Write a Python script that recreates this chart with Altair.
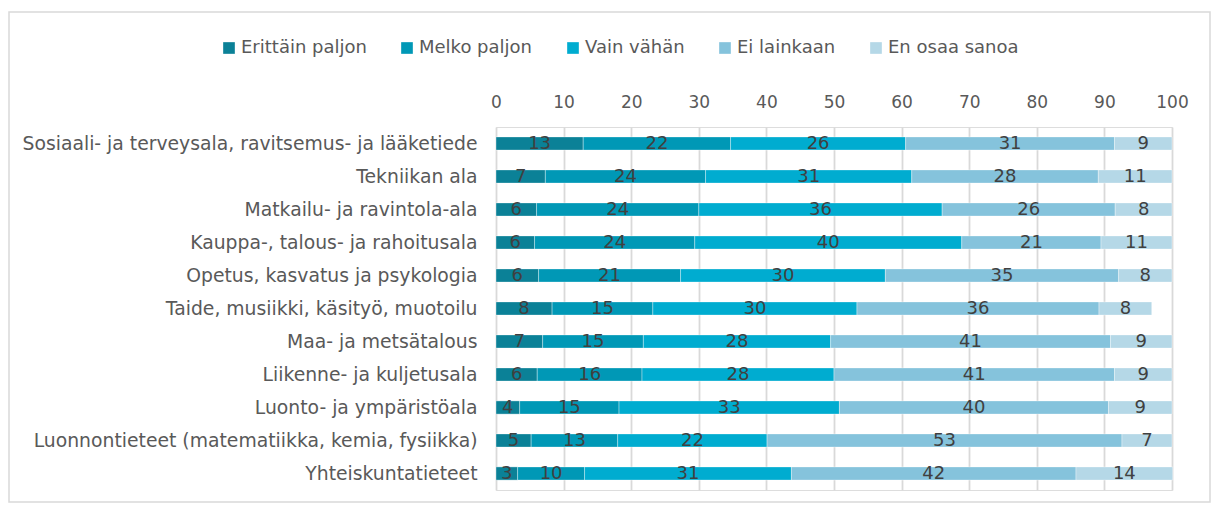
import altair as alt
import pandas as pd

categories = [
    "Sosiaali- ja terveysala, ravitsemus- ja lääketiede",
    "Tekniikan ala",
    "Matkailu- ja ravintola-ala",
    "Kauppa-, talous- ja rahoitusala",
    "Opetus, kasvatus ja psykologia",
    "Taide, musiikki, käsityö, muotoilu",
    "Maa- ja metsätalous",
    "Liikenne- ja kuljetusala",
    "Luonto- ja ympäristöala",
    "Luonnontieteet (matematiikka, kemia, fysiikka)",
    "Yhteiskuntatieteet",
]
series = ["Erittäin paljon", "Melko paljon", "Vain vähän", "Ei lainkaan", "En osaa sanoa"]
colors = ["#0b8197", "#0098b6", "#00acd0", "#85c3dc", "#b5d8e7"]

erittain = [12.9, 7.3, 6.0, 5.7, 6.3, 8.3, 6.9, 6.1, 3.5, 5.2, 3.2]
melko = [21.8, 23.7, 24.0, 23.7, 21.0, 14.9, 14.9, 15.5, 14.7, 12.8, 9.9]
vain = [25.9, 30.5, 36.0, 39.5, 30.3, 30.2, 27.7, 28.4, 32.6, 22.1, 30.6]
ei = [30.9, 27.6, 25.6, 20.6, 34.5, 35.8, 41.4, 41.5, 39.8, 52.5, 42.1]
en = [8.5, 10.9, 8.4, 10.5, 7.9, 7.8, 9.1, 8.5, 9.4, 7.4, 14.3]

l_erittain = [13, 7, 6, 6, 6, 8, 7, 6, 4, 5, 3]
l_melko = [22, 24, 24, 24, 21, 15, 15, 16, 15, 13, 10]
l_vain = [26, 31, 36, 40, 30, 30, 28, 28, 33, 22, 31]
l_ei = [31, 28, 26, 21, 35, 36, 41, 41, 40, 53, 42]
l_en = [9, 11, 8, 11, 8, 8, 9, 9, 9, 7, 14]

x_ticks = list(range(0, 101, 10))

values = [erittain, melko, vain, ei, en]
labels = [l_erittain, l_melko, l_vain, l_ei, l_en]
rows = []
for si, s in enumerate(series):
    for ci, c in enumerate(categories):
        rows.append({"cat": c, "series": s, "order": si,
                     "value": values[si][ci], "label": str(labels[si][ci])})
df = pd.DataFrame(rows)

FONT = "DejaVu Sans"

base = alt.Chart(df).transform_stack(
    stack="value", groupby=["cat"], as_=["x0", "x1"],
    sort=[alt.SortField("order", order="ascending")]
).transform_calculate(mid="(datum.x0 + datum.x1) / 2")

y_enc = alt.Y("cat:N", sort=categories, title=None,
              scale=alt.Scale(paddingInner=0.6, paddingOuter=0.3),
              axis=alt.Axis(labelFontSize=18.8, labelColor="#595959", labelFont=FONT,
                            ticks=False, domain=False, labelPadding=19, labelLimit=600))

bars = base.mark_bar(stroke="white", strokeWidth=0.5, strokeOpacity=0.7).encode(
    x=alt.X("x0:Q", scale=alt.Scale(domain=[0, 100], nice=False), title=None,
            axis=alt.Axis(orient="top", values=x_ticks, labelFontSize=17, labelColor="#595959",
                          labelFont=FONT, ticks=False, domain=False, labelPadding=16,
                          labelFlush=False, labelOverlap=False,
                          grid=True, gridColor="#d9d9d9", gridWidth=1.8)),
    x2="x1:Q",
    y=y_enc,
    color=alt.Color("series:N", scale=alt.Scale(domain=series, range=colors),
                    legend=alt.Legend(title=None, orient="none", direction="horizontal",
                                      legendX=-276, legendY=-88, symbolType="square",
                                      symbolSize=136, symbolStrokeWidth=0,
                                      labelFontSize=18, labelColor="#595959", labelFont=FONT,
                                      labelOffset=3, columnPadding=31, labelLimit=300)),
)

texts = base.mark_text(fontSize=18, color="#404040", font=FONT, baseline="middle",
                       align="center").encode(
    x=alt.X("mid:Q"),
    y=alt.Y("cat:N", sort=categories),
    text="label:N",
)

frame = alt.Chart(pd.DataFrame({"k": [0]})).mark_rect(
    fill=None, stroke="#d9d9d9", strokeWidth=1.5, clip=False
).encode(x=alt.value(-487), x2=alt.value(714), y=alt.value(-115), y2=alt.value(375))

chart = alt.layer(frame, bars, texts).properties(
    width=676, height=363,
    autosize=alt.AutoSizeParams(type="none"),
    padding={"left": 488, "top": 119, "right": 39, "bottom": 13},
).configure_view(stroke=None).configure(font=FONT)

chart.save("out.html", embed_options={"renderer": "svg", "actions": False})
